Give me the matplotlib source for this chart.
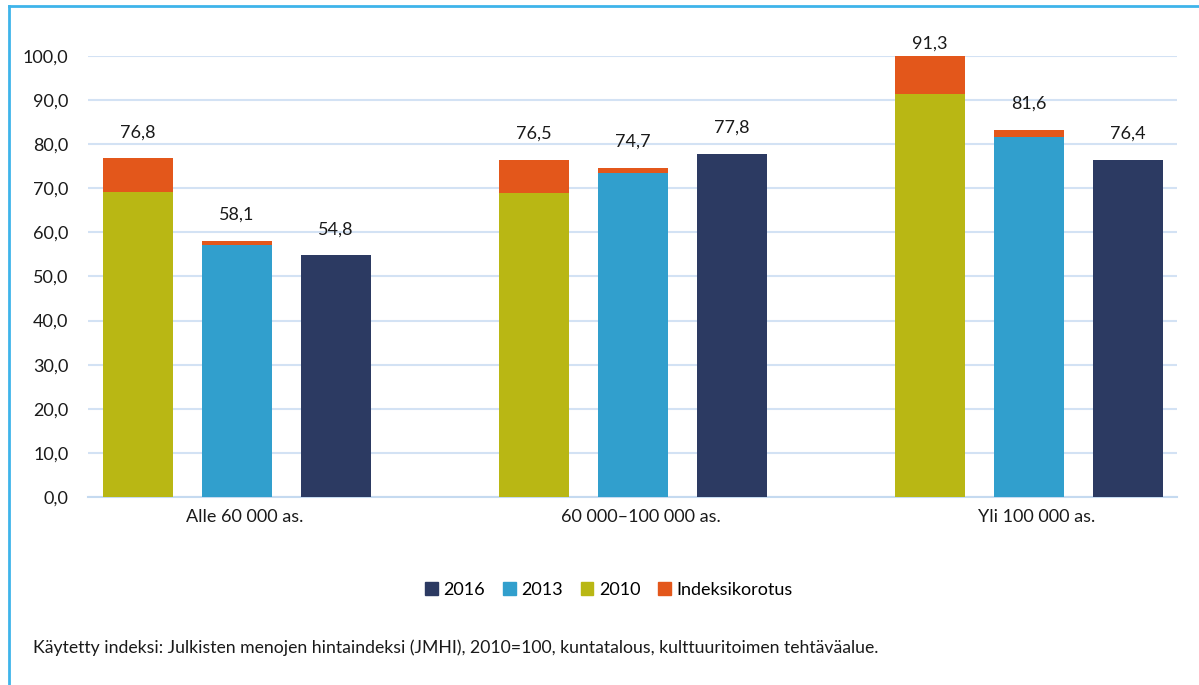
import numpy as np
import matplotlib
matplotlib.use("Agg")
import matplotlib.pyplot as plt
from matplotlib.lines import Line2D
from matplotlib.patches import Patch

plt.rcParams['font.family'] = ['Lato', 'DejaVu Sans']

groups = ["Alle 60 000 as.", "60 000\u2013100 000 as.", "Yli 100 000 as."]
base_2010 = [69.2, 68.9, 91.3]
index_2010 = [7.6, 7.6, 8.7]
base_2013 = [57.1, 73.5, 81.6]
index_2013 = [1.0, 1.2, 1.6]
val_2016 = [54.8, 77.8, 76.4]
labels_2010 = ["76,8", "76,5", "91,3"]
labels_2013 = ["58,1", "74,7", "81,6"]
labels_2016 = ["54,8", "77,8", "76,4"]

c_2016 = "#2c3a62"
c_2013 = "#319fcd"
c_2010 = "#b9b714"
c_index = "#e3571b"
grid_c = "#d3e2f4"

fig = plt.figure(figsize=(11.99, 6.85), dpi=100)
ax = fig.add_axes([0.0734, 0.2745, 0.9083, 0.6438])

x = np.arange(len(groups)) * 4
w = 0.707

ax.bar(x - 1, base_2010, w, color=c_2010, zorder=3)
ax.bar(x - 1, index_2010, w, bottom=base_2010, color=c_index, zorder=3)
ax.bar(x, base_2013, w, color=c_2013, zorder=3)
ax.bar(x, index_2013, w, bottom=base_2013, color=c_index, zorder=3)
ax.bar(x + 1, val_2016, w, color=c_2016, zorder=3)

tot_2010 = np.add(base_2010, index_2010)
tot_2013 = np.add(base_2013, index_2013)
for offs, tops, labs in [(-1, tot_2010, labels_2010), (0, tot_2013, labels_2013),
                         (1, val_2016, labels_2016)]:
    for xi, t, lab in zip(x, tops, labs):
        ax.text(xi + offs, min(t + 5.9, 102.9), lab, ha="center", va="center",
                fontsize=13, color="#1a1a1a", clip_on=False)

ax.set_ylim(0, 100)
ax.set_xlim(-1.505, 9.495)
ax.set_yticks(np.arange(0, 101, 10))
ax.set_yticklabels([f"{v:.1f}".replace(".", ",") for v in np.arange(0, 101, 10)])
ax.set_xticks(x + 0.08)
ax.set_xticklabels(groups)
ax.tick_params(axis="both", length=0, labelsize=13, colors="#1a1a1a")
ax.tick_params(axis="y", pad=14)
ax.tick_params(axis="x", pad=9)
ax.yaxis.grid(True, color=grid_c, linewidth=1.5, zorder=0)
ax.set_axisbelow(True)
for s in ["top", "right", "left"]:
    ax.spines[s].set_visible(False)
ax.spines["bottom"].set_color("#c5daf0")
ax.spines["bottom"].set_linewidth(1.5)

handles = [Patch(color=c_2016, label="2016"), Patch(color=c_2013, label="2013"),
           Patch(color=c_2010, label="2010"), Patch(color=c_index, label="Indeksikorotus")]
fig.legend(handles=handles, loc="center", bbox_to_anchor=(609 / 1199, 1 - 590 / 685),
           ncol=4, frameon=False, fontsize=13, handlelength=0.7, handleheight=0.7,
           handletextpad=0.3, columnspacing=1.0)

fig.text(33 / 1199, 1 - 648 / 685,
         "Käytetty indeksi: Julkisten menojen hintaindeksi (JMHI), 2010=100, kuntatalous, kulttuuritoimen tehtäväalue.",
         ha="left", va="center", fontsize=12.7, color="#1a1a1a")

# light blue frame on the top and left
fig.add_artist(Line2D([8.5 / 1199, 8.5 / 1199], [0, 1 - 5.5 / 685], color="#3fb4ea", linewidth=2,
                      transform=fig.transFigure))
fig.add_artist(Line2D([8.5 / 1199, 1], [1 - 5.5 / 685, 1 - 5.5 / 685], color="#3fb4ea", linewidth=2,
                      transform=fig.transFigure))

fig.savefig("out.png", dpi=100)
